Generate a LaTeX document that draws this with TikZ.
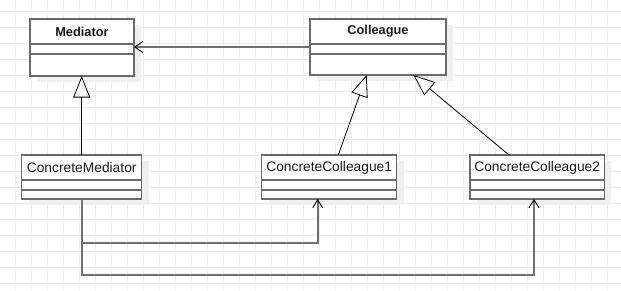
\documentclass[tikz,border=0pt]{standalone}
\usepackage{fontspec}
\setmainfont{Liberation Sans}
\usetikzlibrary{arrows.meta,calc,shadows}
\definecolor{gridc}{HTML}{EBEBEB}
\definecolor{boxc}{HTML}{6A6A6A}
\definecolor{shadowc}{HTML}{EFEFEF}
\definecolor{textc}{HTML}{1A1A1A}
\definecolor{linkc}{HTML}{707070}
\begin{document}
\begin{tikzpicture}[x=1pt,y=-1pt,
  gridline/.style={draw=gridc,line width=0.8pt},
  umlbox/.style={draw=boxc,line width=1.3pt,fill=white,inner sep=0pt,outer sep=0pt,
    general shadow={fill=shadowc,shadow xshift=7pt,shadow yshift=-6pt}},
  divider/.style={draw=boxc,line width=1.3pt},
  titlebold/.style={font=\bfseries\fontsize{12.8}{15}\selectfont,text=textc,inner sep=0pt},
  titleplain/.style={font=\fontsize{13.8}{16}\selectfont,text=textc,inner sep=0pt},
  inherit/.style={draw=black,line width=0.8pt,-{Triangle[open,length=21.5pt,width=17pt,fill=white]}},
  assoc/.style={draw=linkc,line width=1.2pt,-{Straight Barb[length=8pt,width=11pt,line width=0.9pt,color=black]}},
  uses/.style={draw=linkc,line width=1.8pt,-{Straight Barb[length=8pt,width=10pt,line width=0.9pt,color=black]}}
]
\useasboundingbox (0,0) rectangle (621,290);
\fill[white] (0,0) rectangle (621,290);
\foreach \x in {15,31,...,607} \draw[gridline] (\x,0) -- (\x,290);
\foreach \y in {11.5,27.5,...,283.5} \draw[gridline] (0,\y) -- (621,\y);

% boxes
\node[umlbox,minimum width=104pt,minimum height=57pt] (med) at (82,47.5) {};
\node[umlbox,minimum width=136pt,minimum height=56pt] (col) at (378,47) {};
\node[umlbox,minimum width=120pt,minimum height=44pt] (cm) at (81.7,177) {};
\node[umlbox,minimum width=135pt,minimum height=44pt] (cc1) at (329.2,177) {};
\node[umlbox,minimum width=134.3pt,minimum height=44pt] (cc2) at (537.2,177) {};

% dividers
\foreach \b in {med,col,cm,cc1,cc2}{
  \draw[divider] ($(\b.north west)+(0,25)$) -- ($(\b.north east)+(0,25)$);
  \draw[divider] ($(\b.north west)+(0,35)$) -- ($(\b.north east)+(0,35)$);
}

% titles
\node[titlebold] (medt) at ($(med.north)+(0,12.5)$) {Mediator};
\node[titlebold] (colt) at ($(col.north)+(0,12.5)$) {Colleague};
\node[titleplain] (cmt) at ($(cm.north)+(0,12.5)$) {ConcreteMediator};
\node[titleplain] (cc1t) at ($(cc1.north)+(0,12.5)$) {ConcreteColleague1};
\node[titleplain] (cc2t) at ($(cc2.north)+(0,12.5)$) {ConcreteColleague2};

% connectors
\draw[assoc] (col.west) -- (col.west -| med.east);
\draw[inherit] (cm.north) -- (cm.north |- med.south);
\draw[inherit] ($(cc1.north)+(9.1,0)$) -- ($(col.south)+(-11.3,0)$);
\draw[inherit] ($(cc2.north)+(-28.2,0)$) -- ($(col.south)+(35.3,0)$);
\draw[uses] (cm.south) -- ++(0,43.7) -| ($(cc1.south)+(-11.5,0)$);
\draw[uses] (cm.south) -- ++(0,76) -| ($(cc2.south)+(-3.2,0)$);
\end{tikzpicture}
\end{document}
